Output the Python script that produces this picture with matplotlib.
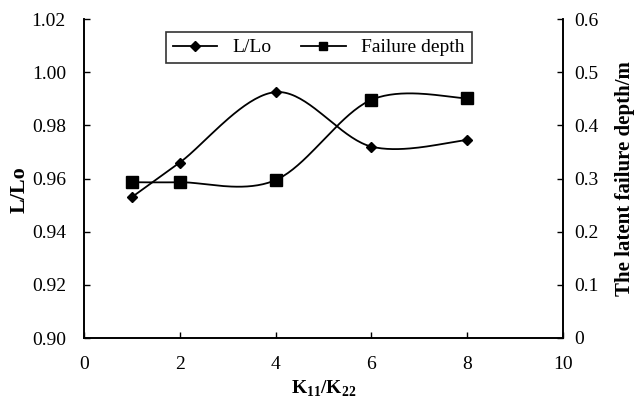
import numpy as np
import matplotlib.pyplot as plt

plt.rcParams["font.family"] = ["Liberation Serif", "DejaVu Serif"]
plt.rcParams["mathtext.fontset"] = "custom"
plt.rcParams["mathtext.rm"] = "Liberation Serif"
plt.rcParams["mathtext.bf"] = "Liberation Serif:bold"

k_ratio = [1, 2, 4, 6, 8]
l_ratio = [0.953, 0.966, 0.9925, 0.972, 0.9745]
failure_depth = [0.293, 0.293, 0.297, 0.448, 0.451]


def smooth(x, y, n=40):
    # cubic Bezier through each pair of points, Catmull-Rom style handles
    x = np.asarray(x, float)
    y = np.asarray(y, float)
    px = np.concatenate([[x[0]], x, [x[-1]]])
    py = np.concatenate([[y[0]], y, [y[-1]]])
    xs, ys = [], []
    t = np.linspace(0, 1, n)
    for i in range(1, len(px) - 2):
        p0 = np.array([px[i], py[i]])
        p3 = np.array([px[i + 1], py[i + 1]])
        p1 = p0 + (np.array([px[i + 1], py[i + 1]]) - np.array([px[i - 1], py[i - 1]])) / 6
        p2 = p3 - (np.array([px[i + 2], py[i + 2]]) - np.array([px[i], py[i]])) / 6
        b = ((1 - t) ** 3)[:, None] * p0 + (3 * (1 - t) ** 2 * t)[:, None] * p1 \
            + (3 * (1 - t) * t ** 2)[:, None] * p2 + (t ** 3)[:, None] * p3
        xs.append(b[:, 0])
        ys.append(b[:, 1])
    return np.concatenate(xs), np.concatenate(ys)


fig = plt.figure(figsize=(6.38, 3.99), dpi=100)
ax = fig.add_axes([84 / 638, 1 - 338 / 399, (563 - 84) / 638, (338 - 19) / 399])
ax2 = ax.twinx()

sx, sy = smooth(k_ratio, l_ratio)
ax.plot(sx, sy, color="black", lw=1.3)
ax.plot(k_ratio, l_ratio, ls="none", marker="D", ms=5.5, color="black")
h1, = ax.plot([], [], color="black", lw=1.3, marker="D", ms=5)

sx, sy = smooth(k_ratio, failure_depth)
ax2.plot(sx, sy, color="black", lw=1.3)
ax2.plot(k_ratio, failure_depth, ls="none", marker="s", ms=8, color="black")
h2, = ax2.plot([], [], color="black", lw=1.3, marker="s", ms=6)

ax.set_xlim(0, 10)
ax.set_ylim(0.90, 1.02)
ax.set_xticks(range(0, 11, 2))
ax.set_yticks(np.arange(0.90, 1.021, 0.02))
ax.set_yticklabels([f"{v:.2f}" for v in np.arange(0.90, 1.021, 0.02)])
ax2.set_ylim(0, 0.6)
ax2.set_yticks(np.arange(0, 0.61, 0.1))
ax2.set_yticklabels(["0"] + [f"{v:.1f}" for v in np.arange(0.1, 0.61, 0.1)])

for a in (ax, ax2):
    a.spines["top"].set_visible(False)
    for s in a.spines.values():
        s.set_linewidth(1.2)
    a.tick_params(direction="in", length=4, width=1.0, labelsize=14)
ax.tick_params(axis="y", pad=13)
ax.tick_params(axis="x", pad=13)
ax2.tick_params(axis="y", pad=8)

ax.set_xlabel(r"K$_{\mathbf{11}}$/K$_{\mathbf{22}}$", fontsize=14, fontweight="bold", labelpad=4)
ax.set_ylabel("L/Lo", fontsize=16, fontweight="bold")
ax.yaxis.set_label_coords(-0.113, 0.465)
ax2.set_ylabel("The latent failure depth/m", fontsize=15, fontweight="bold")
ax2.yaxis.set_label_coords(1.108, 0.5)

leg = ax.legend([h1, h2], ["L/Lo", "Failure depth"], loc="upper center",
                bbox_to_anchor=(0.49, 0.99), ncol=2, fontsize=14, frameon=True,
                fancybox=False, edgecolor="black", handlelength=2.3,
                columnspacing=1.5, borderpad=0.35)
leg.get_frame().set_linewidth(1.2)

fig.savefig("out.png", dpi=100)
